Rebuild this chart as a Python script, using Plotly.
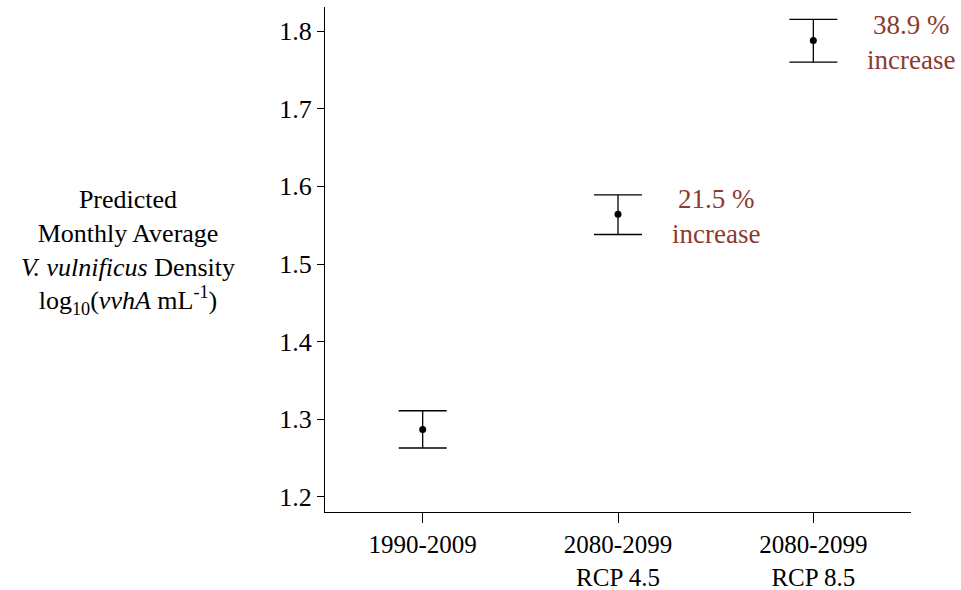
import plotly.graph_objects as go

# Predicted monthly average V. vulnificus density per period / scenario
periods = ["1990-2009", "2080-2099<br>RCP 4.5", "2080-2099<br>RCP 8.5"]
mean_density = [1.287, 1.564, 1.788]
err_upper = [0.024, 0.025, 0.027]
err_lower = [0.024, 0.026, 0.028]
increase_labels = ["", "21.5 %<br>increase", "38.9 %<br>increase"]
y_ticks = [1.2, 1.3, 1.4, 1.5, 1.6, 1.7, 1.8]

FONT = "Liberation Serif"
RED = "#8c3a2e"

x_idx = list(range(len(periods)))

fig = go.Figure()
fig.add_trace(go.Scatter(
    x=x_idx,
    y=mean_density,
    mode="markers",
    marker=dict(color="black", size=7),
    error_y=dict(type="data", symmetric=False, array=err_upper,
                 arrayminus=err_lower, color="black", thickness=1.3, width=24),
    showlegend=False,
))

# Percent-increase labels beside the future scenarios
for i, label in enumerate(increase_labels):
    if label:
        fig.add_annotation(x=i + 0.5, y=mean_density[i] - 0.003, xref="x", yref="y",
                           text=label, showarrow=False,
                           font=dict(family=FONT, size=27, color=RED),
                           xanchor="center", yanchor="middle")

# Horizontal y-axis title to the left of the plot
fig.add_annotation(
    x=-0.336, y=0.515, xref="paper", yref="paper",
    text="Predicted<br>Monthly Average<br><i>V. vulnificus</i> Density<br>"
         "log<sub>10</sub>(<i>vvhA</i> mL<sup>-1</sup>)",
    showarrow=False, xanchor="center", yanchor="middle",
    font=dict(family=FONT, size=26, color="black"), align="center",
)

fig.update_layout(
    width=961, height=590,
    margin=dict(l=325, r=50, t=7, b=78),
    plot_bgcolor="white", paper_bgcolor="white",
    font=dict(family=FONT, size=26, color="black"),
    xaxis=dict(
        range=[-0.5, 2.5], tickmode="array", tickvals=x_idx, ticktext=periods,
        showgrid=False, zeroline=False, showline=True, linecolor="black",
        linewidth=1.3, ticks="outside", ticklen=10, tickwidth=1.3,
        tickcolor="black", tickfont=dict(family=FONT, size=25), automargin=False,
    ),
    yaxis=dict(
        range=[1.1806, 1.831], tickmode="array",
        tickvals=y_ticks, ticktext=[f"{v:.1f}" for v in y_ticks],
        showgrid=False, zeroline=False, showline=True, linecolor="black",
        linewidth=1.3, ticks="outside", ticklen=7, tickwidth=1.3,
        tickcolor="black", tickfont=dict(family=FONT, size=26), automargin=False,
    ),
)

fig.write_html("out.html")
